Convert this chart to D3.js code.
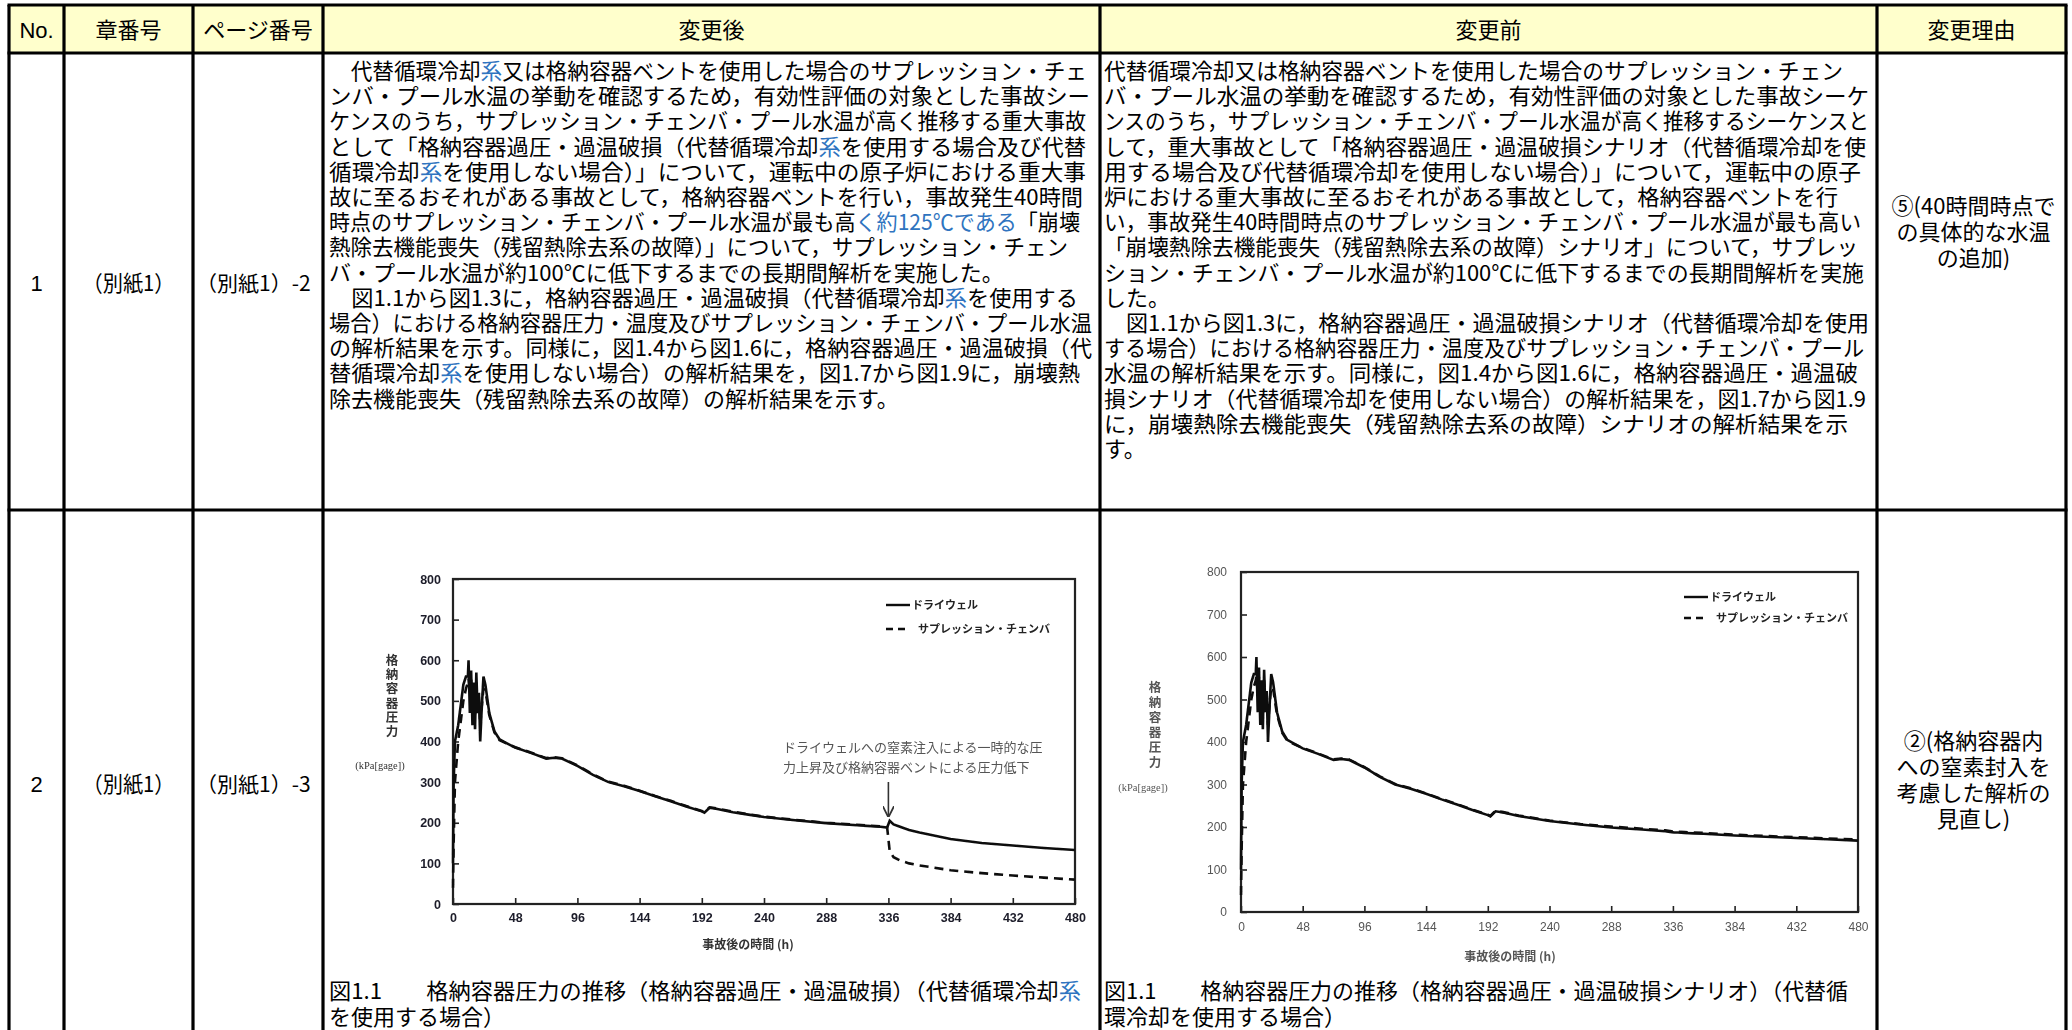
<!DOCTYPE html>
<html><head><meta charset="utf-8">
<script src="https://cdn.jsdelivr.net/npm/d3@7"></script>
<style>
html,body{margin:0;padding:0;background:#fff;}
svg{display:block;font-family:"Noto Sans CJK JP","Noto Sans",sans-serif;}
</style></head><body>
<svg id="sheet" width="2072" height="1030"></svg>
<script>
// ---------- table content ----------
const headers = ["No.", "章番号", "ページ番号", "変更後", "変更前", "変更理由"];
const rowNumbers = ["1", "2"];
const chapters = ["（別紙1）", "（別紙1）"];
const pages = ["（別紙1）-2", "（別紙1）-3"];

// {…} marks text printed in blue
const afterText = [
  "　代替循環冷却{系}又は格納容器ベントを使用した場合のサプレッション・チェ",
  "ンバ・プール水温の挙動を確認するため，有効性評価の対象とした事故シー",
  "ケンスのうち，サプレッション・チェンバ・プール水温が高く推移する重大事故",
  "として「格納容器過圧・過温破損（代替循環冷却{系}を使用する場合及び代替",
  "循環冷却{系}を使用しない場合）」について，運転中の原子炉における重大事",
  "故に至るおそれがある事故として，格納容器ベントを行い，事故発生40時間",
  "時点のサプレッション・チェンバ・プール水温が最も高{く約125℃である}「崩壊",
  "熱除去機能喪失（残留熱除去系の故障）」について，サプレッション・チェン",
  "バ・プール水温が約100℃に低下するまでの長期間解析を実施した。",
  "　図1.1から図1.3に，格納容器過圧・過温破損（代替循環冷却{系}を使用する",
  "場合）における格納容器圧力・温度及びサプレッション・チェンバ・プール水温",
  "の解析結果を示す。同様に，図1.4から図1.6に，格納容器過圧・過温破損（代",
  "替循環冷却{系}を使用しない場合）の解析結果を，図1.7から図1.9に，崩壊熱",
  "除去機能喪失（残留熱除去系の故障）の解析結果を示す。"
];
const beforeText = [
  "代替循環冷却又は格納容器ベントを使用した場合のサプレッション・チェン",
  "バ・プール水温の挙動を確認するため，有効性評価の対象とした事故シーケ",
  "ンスのうち，サプレッション・チェンバ・プール水温が高く推移するシーケンスと",
  "して，重大事故として「格納容器過圧・過温破損シナリオ（代替循環冷却を使",
  "用する場合及び代替循環冷却を使用しない場合）」について，運転中の原子",
  "炉における重大事故に至るおそれがある事故として，格納容器ベントを行",
  "い，事故発生40時間時点のサプレッション・チェンバ・プール水温が最も高い",
  "「崩壊熱除去機能喪失（残留熱除去系の故障）シナリオ」について，サプレッ",
  "ション・チェンバ・プール水温が約100℃に低下するまでの長期間解析を実施",
  "した。",
  "　図1.1から図1.3に，格納容器過圧・過温破損シナリオ（代替循環冷却を使用",
  "する場合）における格納容器圧力・温度及びサプレッション・チェンバ・プール",
  "水温の解析結果を示す。同様に，図1.4から図1.6に，格納容器過圧・過温破",
  "損シナリオ（代替循環冷却を使用しない場合）の解析結果を，図1.7から図1.9",
  "に，崩壊熱除去機能喪失（残留熱除去系の故障）シナリオの解析結果を示",
  "す。"
];
const reasons = [
  ["⑤(40時間時点で", "の具体的な水温", "の追加)"],
  ["②(格納容器内", "への窒素封入を", "考慮した解析の", "見直し)"]
];
const afterCaption = ["図1.1　　格納容器圧力の推移（格納容器過圧・過温破損）（代替循環冷却{系}", "を使用する場合）"];
const beforeCaption = ["図1.1　　格納容器圧力の推移（格納容器過圧・過温破損シナリオ）（代替循", "環冷却を使用する場合）"];

// ---------- chart content ----------
const yTitle = "格納容器圧力";
const yUnit = "(kPa[gage])";
const xTitle = "事故後の時間 (h)";
const legendNames = ["ドライウェル", "サプレッション・チェンバ"];
const note = ["ドライウェルへの窒素注入による一時的な圧", "力上昇及び格納容器ベントによる圧力低下"];
const xTicks = [0, 48, 96, 144, 192, 240, 288, 336, 384, 432, 480];
const yTicks = [0, 100, 200, 300, 400, 500, 600, 700, 800];

// time after the accident (h)
const hours = [0, 0.5, 1.5, 4, 8, 10, 11.5, 12, 13, 14, 15, 16, 17, 18, 19, 20, 21, 22, 23.5, 25, 28, 32, 36, 42, 48,
  60, 72, 78, 84, 96, 108, 120, 132, 144, 156, 168, 180, 192, 194, 198, 204, 216, 228, 240, 264, 288, 312, 330, 335,
  337, 340, 345, 352, 360, 384, 408, 432, 456, 480];
// pressure, kPa[gage] — revised analysis (N2 injection + vent at 336 h)
const drywellAfter = [100, 300, 400, 440, 540, 560, 560, 600, 470, 575, 440, 545, 430, 570, 470, 520, 400, 470, 560, 540,
  470, 425, 405, 395, 385, 372, 358, 360, 358, 340, 318, 300, 290, 278, 265, 253, 240, 228, 225, 237, 234, 226, 220,
  214, 206, 199, 194, 190, 188, 205, 196, 190, 182, 176, 160, 150, 144, 138, 133];
const wetwellAfter = [40, 150, 300, 400, 500, 530, 545, 555, 520, 555, 470, 530, 460, 545, 490, 510, 440, 480, 530, 525,
  465, 422, 403, 394, 386, 373, 359, 361, 359, 341, 319, 301, 291, 279, 266, 254, 241, 229, 226, 238, 235, 227, 221,
  215, 207, 200, 195, 191, 189, 130, 115, 107, 100, 95, 83, 76, 70, 65, 60];
// pressure, kPa[gage] — previous analysis
const drywellBefore = [100, 300, 400, 440, 540, 560, 560, 600, 470, 575, 440, 545, 430, 570, 470, 520, 400, 470, 560, 540,
  470, 425, 405, 395, 385, 372, 358, 360, 358, 340, 318, 300, 290, 278, 265, 253, 240, 228, 225, 237, 234, 226, 220,
  214, 206, 199, 194, 190, 188, 187, 187, 186, 185, 184, 180, 177, 174, 171, 168];
const wetwellBefore = [40, 150, 300, 400, 500, 530, 545, 555, 520, 555, 470, 530, 460, 545, 490, 510, 440, 480, 530, 525,
  465, 422, 403, 394, 386, 373, 359, 361, 359, 341, 319, 301, 291, 279, 266, 254, 241, 229, 226, 238, 235, 227, 221,
  215, 207, 201, 196, 192, 190, 189, 189, 188, 187, 186, 182, 179, 176, 173, 171];

// ---------- layout ----------
const colX = [9, 64, 193, 323, 1100, 1877, 2066];
const rowY = [5, 53, 510, 1040];
const BLUE = "#2f74c0";
const FS = 22;
const lineStep = 25.2;
const firstLine = 71;
// right end of each justified body line (null = paragraph end, natural width)
const afterEnds = [1087, 1090, 1086, 1086, 1086, 1083, 1080, 1068, null, 1078, 1092, 1092, 1080, null];
const beforeEnds = [1843, 1869, 1869, 1866, 1861, 1838, 1861, 1858, 1864, null, 1869, 1864, 1858, 1866, 1848, null];

const svg = d3.select("#sheet");
const defs = svg.append("defs");
defs.append("filter").attr("id", "soft1").append("feGaussianBlur").attr("stdDeviation", 0.45);
defs.append("filter").attr("id", "soft2").append("feGaussianBlur").attr("stdDeviation", 0.75);
defs.append("marker").attr("id", "arrowHead").attr("viewBox", "0 0 10 10").attr("refX", 9).attr("refY", 5)
  .attr("markerWidth", 7).attr("markerHeight", 7).attr("orient", "auto")
  .append("path").attr("d", "M0,0 L10,5 L0,10").attr("fill", "none").attr("stroke", "#333").attr("stroke-width", 1.6);

// header band
svg.append("rect").attr("x", colX[0]).attr("y", rowY[0]).attr("width", colX[6] - colX[0]).attr("height", rowY[1] - rowY[0])
  .attr("fill", "#ffffcc");

// text line with {blue} segments, optionally stretched to a fixed width
function richLine(g, str, x, y, opts = {}) {
  const t = g.append("text").attr("x", x).attr("y", y).attr("font-size", opts.size || FS).attr("fill", "#000")
    .attr("text-anchor", opts.anchor || "start");
  str.split(/(\{[^}]*\})/).filter(s => s.length).forEach(s => {
    const blue = s.startsWith("{");
    t.append("tspan").text(blue ? s.slice(1, -1) : s).attr("fill", blue ? BLUE : "#000");
  });
  if (opts.width) t.attr("textLength", opts.width).attr("lengthAdjust", "spacingAndGlyphs");
  return t;
}
const base = c => c + FS * 0.36;

const txt = svg.append("g");
// headers
headers.forEach((h, i) => {
  const cx = (colX[i] + colX[i + 1]) / 2;
  txt.append("text").attr("x", cx).attr("y", base(30)).attr("text-anchor", "middle").attr("font-size", FS)
    .attr("font-family", i === 0 ? "'Liberation Sans Narrow','Liberation Sans',sans-serif" : null).text(h);
});

// row label columns
const labelY = [base(283), base(784)];
rowNumbers.forEach((n, r) => {
  txt.append("text").attr("x", (colX[0] + colX[1]) / 2).attr("y", labelY[r]).attr("text-anchor", "middle")
    .attr("font-size", FS).attr("font-family", "'Liberation Sans','Noto Sans CJK JP',sans-serif").text(n);
  txt.append("text").attr("x", (colX[1] + colX[2]) / 2).attr("y", labelY[r]).attr("text-anchor", "middle")
    .attr("font-size", FS).attr("textLength", 92).attr("lengthAdjust", "spacingAndGlyphs").text(chapters[r]);
  txt.append("text").attr("x", colX[2] + 3).attr("y", labelY[r]).attr("font-size", 21).text(pages[r]);
});

// body paragraphs
afterText.forEach((s, i) => {
  const e = afterEnds[i];
  richLine(txt, s, 329, base(firstLine + i * lineStep), e ? { width: e - 329 } : {});
});
beforeText.forEach((s, i) => {
  const e = beforeEnds[i];
  richLine(txt, s, 1104, base(firstLine + i * lineStep), e ? { width: e - 1104 } : {});
});

// reasons
const reasonTop = [206, 741];
reasons.forEach((lines, r) => {
  lines.forEach((s, i) => {
    txt.append("text").attr("x", (colX[5] + colX[6]) / 2 + 2).attr("y", base(reasonTop[r] + i * 26))
      .attr("text-anchor", "middle").attr("font-size", FS).text(s);
  });
});

// captions
richLine(txt, afterCaption[0], 329, base(991), { width: 752 });
richLine(txt, afterCaption[1], 329, base(1017));
richLine(txt, beforeCaption[0], 1104, base(991), { width: 744 });
richLine(txt, beforeCaption[1], 1104, base(1017));

// ---------- charts ----------
function drawChart(cfg) {
  const g = svg.append("g").attr("filter", `url(#${cfg.filter})`);
  const x = d3.scaleLinear().domain([0, 480]).range([cfg.x0, cfg.x1]);
  const y = d3.scaleLinear().domain([0, 800]).range([cfg.y1, cfg.y0]);

  const xa = g.append("g").attr("transform", `translate(0,${cfg.y1})`)
    .call(d3.axisBottom(x).tickValues(xTicks).tickSizeInner(-6).tickSizeOuter(0).tickPadding(cfg.xPad));
  const ya = g.append("g").attr("transform", `translate(${cfg.x0},0)`)
    .call(d3.axisLeft(y).tickValues(yTicks).tickSizeInner(-6).tickSizeOuter(0).tickPadding(cfg.yPad));
  [xa, ya].forEach(a => {
    a.select(".domain").remove();
    a.selectAll(".tick line").attr("stroke", "#222").attr("stroke-width", 1.6);
    a.selectAll(".tick text").attr("fill", cfg.labelColor).attr("font-size", cfg.tickSize)
      .attr("font-weight", cfg.tickWeight)
      .attr("font-family", "'Liberation Sans Narrow','Liberation Sans',sans-serif");
  });
  g.append("rect").attr("x", cfg.x0).attr("y", cfg.y0).attr("width", cfg.x1 - cfg.x0).attr("height", cfg.y1 - cfg.y0)
    .attr("fill", "none").attr("stroke", "#222").attr("stroke-width", 2.2);

  const line = d3.line().x((d, i) => x(hours[i])).y(d => y(d));
  g.append("path").datum(cfg.wet).attr("d", line).attr("fill", "none").attr("stroke", "#111")
    .attr("stroke-width", 2.6).attr("stroke-dasharray", "9,6");
  g.append("path").datum(cfg.dry).attr("d", line).attr("fill", "none").attr("stroke", "#111")
    .attr("stroke-width", 2.6);

  // legend
  const lx = cfg.legX, ly = cfg.legY;
  g.append("line").attr("x1", lx).attr("x2", lx + 24).attr("y1", ly).attr("y2", ly).attr("stroke", "#111").attr("stroke-width", 2.4);
  g.append("line").attr("x1", lx).attr("x2", lx + 24).attr("y1", ly + cfg.legGap).attr("y2", ly + cfg.legGap)
    .attr("stroke", "#111").attr("stroke-width", 2.4).attr("stroke-dasharray", "7,5");
  legendNames.forEach((n, i) => {
    g.append("text").attr("x", lx + 26 + (i ? 6 : 0)).attr("y", ly + i * cfg.legGap + 4).attr("font-size", 11)
      .attr("font-weight", "bold").attr("fill", "#222").text(n);
  });

  // axis titles
  [...yTitle].forEach((c, i) => {
    g.append("text").attr("x", cfg.yTitleX).attr("y", cfg.yTitleY + i * cfg.yTitleStep).attr("text-anchor", "middle")
      .attr("font-size", 12.5).attr("font-weight", "bold").attr("fill", cfg.titleColor).text(c);
  });
  g.append("text").attr("x", cfg.yTitleX - 12).attr("y", cfg.unitY).attr("text-anchor", "middle").attr("font-size", 10.5)
    .attr("fill", cfg.titleColor).attr("font-family", "'Liberation Serif',serif").text(yUnit);
  g.append("text").attr("x", cfg.xTitleX).attr("y", cfg.xTitleY).attr("text-anchor", "middle").attr("font-size", 12)
    .attr("font-weight", "bold").attr("fill", cfg.titleColor).text(xTitle);

  if (cfg.note) {
    note.forEach((s, i) => {
      g.append("text").attr("x", cfg.noteX).attr("y", cfg.noteY + i * 20).attr("font-size", 13).attr("fill", "#555")
        .text(s);
    });
    g.append("line").attr("x1", x(336)).attr("x2", x(336)).attr("y1", cfg.noteY + 30).attr("y2", y(cfg.arrowTo))
      .attr("stroke", "#333").attr("stroke-width", 1.6).attr("marker-end", "url(#arrowHead)");
  }
}

drawChart({
  filter: "soft1", x0: 453, x1: 1075, y0: 579, y1: 904, dry: drywellAfter, wet: wetwellAfter,
  xPad: 9, yPad: 12, labelColor: "#1d1d2a", tickSize: 12.5, tickWeight: "bold", titleColor: "#333",
  legX: 886, legY: 605, legGap: 24,
  yTitleX: 392, yTitleY: 665, yTitleStep: 14.2, unitY: 769, xTitleX: 748, xTitleY: 949,
  note: true, noteX: 783, noteY: 752, arrowTo: 216
});
drawChart({
  filter: "soft2", x0: 1241, x1: 1858, y0: 572, y1: 912, dry: drywellBefore, wet: wetwellBefore,
  xPad: 10, yPad: 14, labelColor: "#555", tickSize: 12, tickWeight: "normal", titleColor: "#555",
  legX: 1684, legY: 597, legGap: 21,
  yTitleX: 1155, yTitleY: 692, yTitleStep: 15, unitY: 791, xTitleX: 1510, xTitleY: 961,
  note: false
});

// ---------- grid lines ----------
const grid = svg.append("g").attr("stroke", "#000").attr("stroke-width", 3.2);
colX.forEach(x => grid.append("line").attr("x1", x).attr("x2", x).attr("y1", rowY[0]).attr("y2", rowY[3]));
rowY.slice(0, 3).forEach(y => grid.append("line").attr("x1", colX[0] - 1.5).attr("x2", colX[6] + 1.5).attr("y1", y).attr("y2", y));
</script>
</body></html>
